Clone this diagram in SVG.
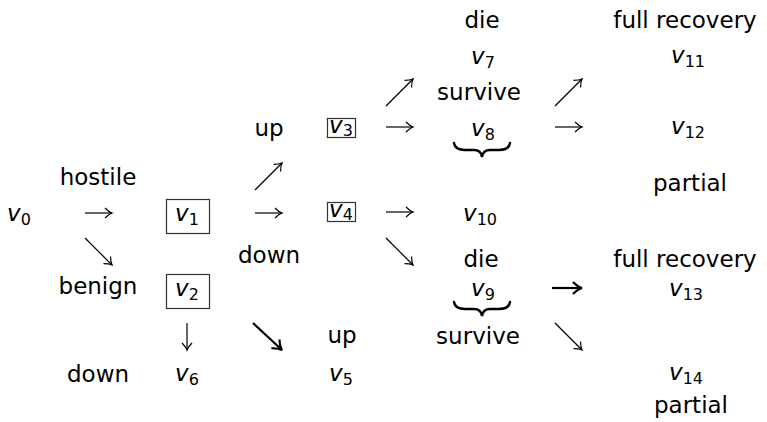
<svg xmlns="http://www.w3.org/2000/svg" width="767" height="422" viewBox="0 0 767 422">
<style>
.t{font-family:"DejaVu Sans",sans-serif;font-size:23px;fill:#000;text-anchor:middle}
.m{font-family:"DejaVu Sans",sans-serif;font-size:23px;font-style:italic;fill:#000;text-anchor:middle}
.s{font-size:16px;font-style:normal}
.box{fill:none;stroke:#333;stroke-width:1.2}
.a{fill:none;stroke:#000;stroke-width:1.2;marker-end:url(#h)}
.b{fill:none;stroke:#000;stroke-width:2.2;marker-end:url(#hb)}
.br{fill:none;stroke:#000;stroke-width:2.4;stroke-linecap:round}
</style>
<defs>
<marker id="h" markerUnits="userSpaceOnUse" markerWidth="20" markerHeight="20" viewBox="-10 -10 20 20" refX="0" refY="0" orient="auto">
<path d="M-7,-5 Q-3,-1 0,0 Q-3,1 -7,5" fill="none" stroke="#000" stroke-width="1.2"/>
</marker>
<marker id="hb" markerUnits="userSpaceOnUse" markerWidth="24" markerHeight="24" viewBox="-12 -12 24 24" refX="0" refY="0" orient="auto">
<path d="M-9,-6 Q-4,-1 0,0 Q-4,1 -9,6" fill="none" stroke="#000" stroke-width="2.2"/>
</marker>
</defs>
<g id="connectors">
<line class="a" x1="85" y1="213" x2="112" y2="213"/>
<line class="a" x1="85" y1="238" x2="112" y2="265"/>
<line class="a" x1="255" y1="190" x2="282" y2="163"/>
<line class="a" x1="255" y1="213" x2="282" y2="213"/>
<line class="a" x1="386" y1="127" x2="413" y2="127"/>
<line class="a" x1="386" y1="106" x2="413" y2="79"/>
<line class="a" x1="386" y1="212" x2="413" y2="212"/>
<line class="a" x1="386" y1="238" x2="413" y2="265"/>
<line class="a" x1="555" y1="106" x2="582" y2="79"/>
<line class="a" x1="555" y1="127" x2="582" y2="127"/>
<line class="b" x1="552" y1="288" x2="582" y2="288"/>
<line class="a" x1="555" y1="323" x2="582" y2="350"/>
<line class="a" x1="187" y1="323" x2="187" y2="350"/>
<line class="b" x1="253" y1="323" x2="282" y2="350"/>
<path class="br" d="M454,143 Q455,150 465,150 L474,150 Q481,150 482,157 Q483,150 490,150 L499,150 Q509,150 510,143"/>
<path class="br" d="M454,302 Q455,309 465,309 L474,309 Q481,309 482,316 Q483,309 490,309 L499,309 Q509,309 510,302"/>
</g>
<g id="labels">
<text class="t" x="98" y="185">hostile</text>
<text class="t" x="98" y="294">benign</text>
<text class="t" x="98" y="382">down</text>
<text class="t" x="269" y="136">up</text>
<text class="t" x="269" y="263">down</text>
<text class="t" x="342" y="343">up</text>
<text class="t" x="482" y="28">die</text>
<text class="t" x="479" y="100">survive</text>
<text class="t" x="481" y="267">die</text>
<text class="t" x="478" y="344">survive</text>
<text class="t" x="685" y="28">full recovery</text>
<text class="t" x="690" y="191">partial</text>
<text class="t" x="685" y="267">full recovery</text>
<text class="t" x="691" y="413">partial</text>
</g>
<g id="v0"><text class="m" x="19" y="221">v<tspan class="s" dy="4">0</tspan></text></g>
<g id="v1"><rect class="box" x="166.5" y="199.5" width="43" height="34"/><text class="m" x="187" y="221">v<tspan class="s" dy="4">1</tspan></text></g>
<g id="v2"><rect class="box" x="166.5" y="274.5" width="43" height="34"/><text class="m" x="187" y="296">v<tspan class="s" dy="4">2</tspan></text></g>
<g id="v3"><rect class="box" x="327.5" y="118.5" width="28" height="19"/><text class="m" x="341" y="133">v<tspan class="s" dy="3">3</tspan></text></g>
<g id="v4"><rect class="box" x="327.5" y="202.5" width="28" height="19"/><text class="m" x="341" y="217">v<tspan class="s" dy="3">4</tspan></text></g>
<g id="v5"><text class="m" x="341" y="381">v<tspan class="s" dy="4">5</tspan></text></g>
<g id="v6"><text class="m" x="187" y="381">v<tspan class="s" dy="4">6</tspan></text></g>
<g id="v7"><text class="m" x="483" y="64">v<tspan class="s" dy="4">7</tspan></text></g>
<g id="v8"><text class="m" x="483" y="136">v<tspan class="s" dy="4">8</tspan></text></g>
<g id="v9"><text class="m" x="483" y="296">v<tspan class="s" dy="4">9</tspan></text></g>
<g id="v10"><text class="m" x="480" y="221">v<tspan class="s" dy="4">10</tspan></text></g>
<g id="v11"><text class="m" x="688" y="63">v<tspan class="s" dy="4">11</tspan></text></g>
<g id="v12"><text class="m" x="688" y="134">v<tspan class="s" dy="4">12</tspan></text></g>
<g id="v13"><text class="m" x="686" y="296">v<tspan class="s" dy="4">13</tspan></text></g>
<g id="v14"><text class="m" x="686" y="380">v<tspan class="s" dy="4">14</tspan></text></g>
</svg>
